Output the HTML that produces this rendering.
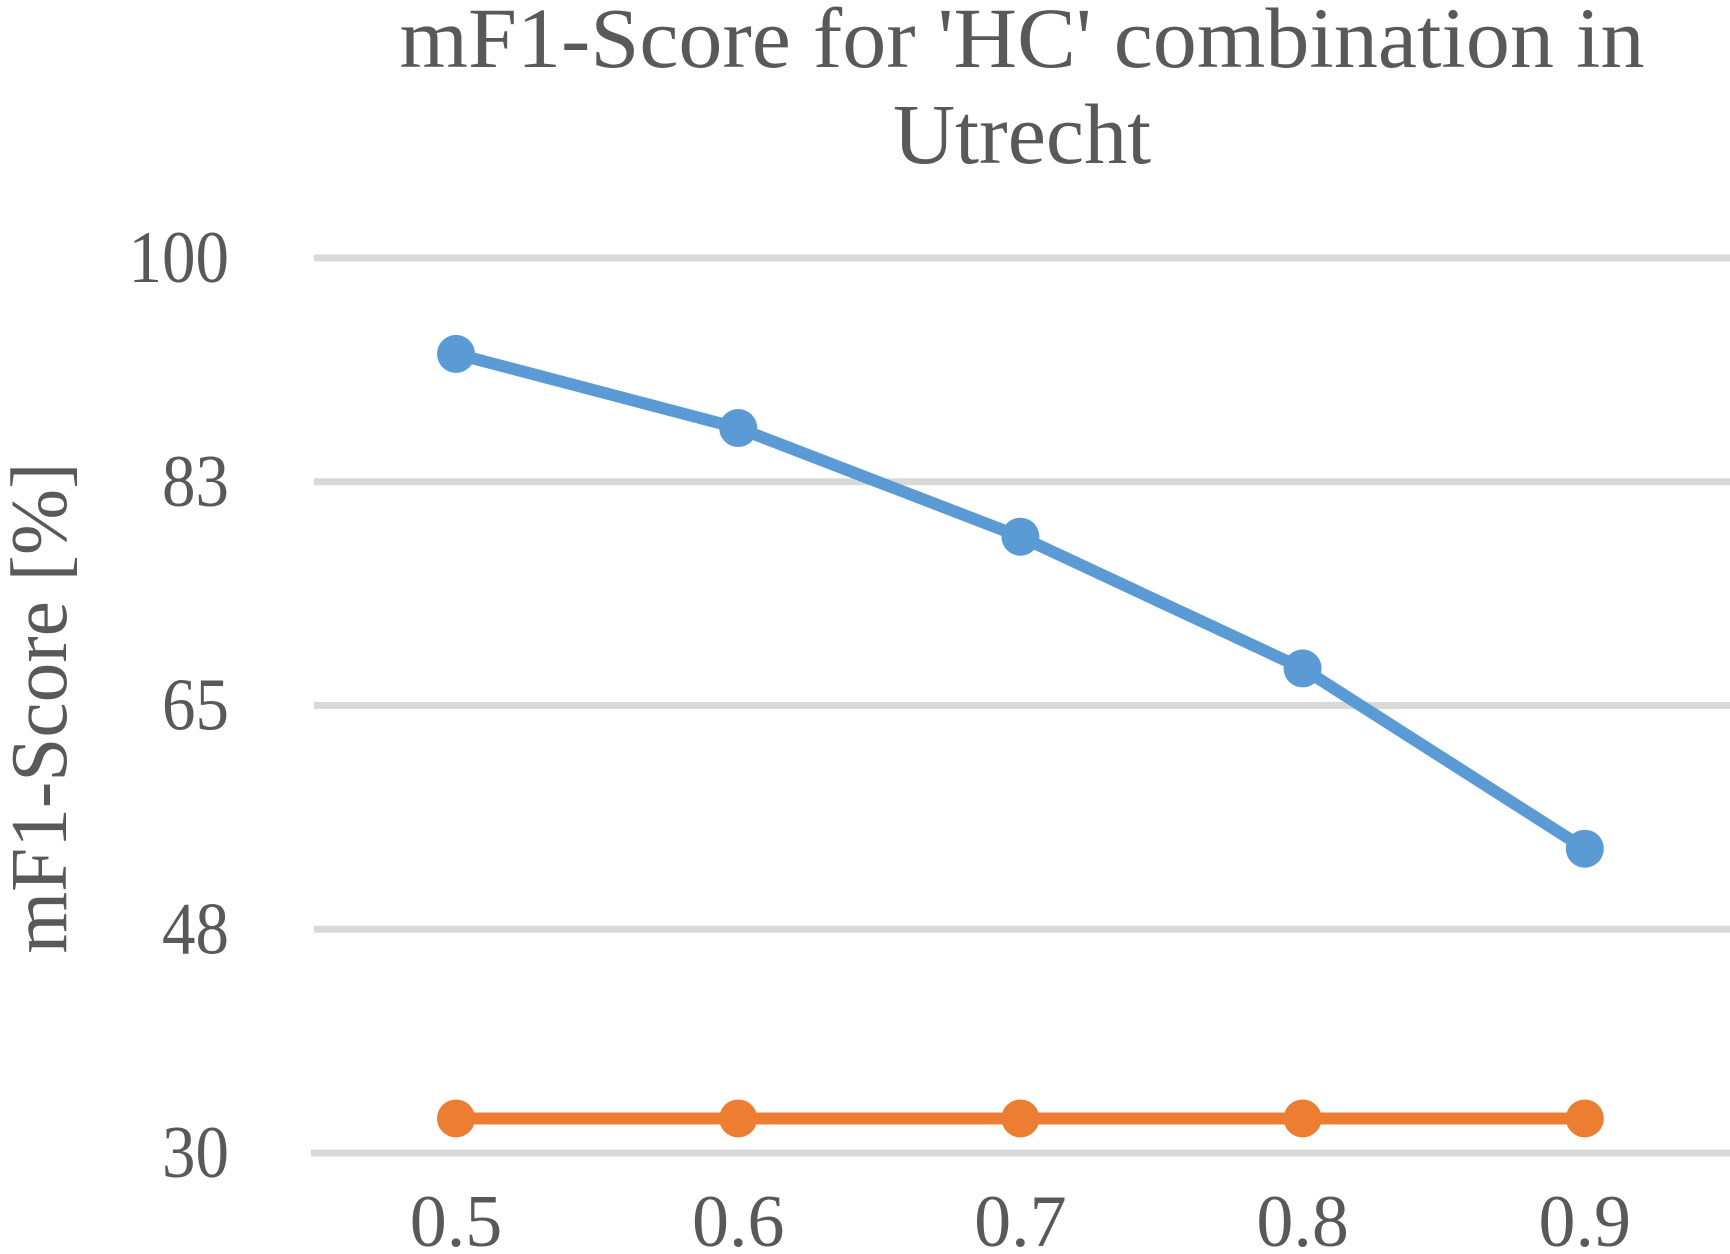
<!DOCTYPE html>
<html><head><meta charset="utf-8"><style>
html,body{margin:0;padding:0;background:#fff;}
svg{display:block;font-family:"Liberation Serif",serif;}
</style></head><body>
<svg id="chart" width="1730" height="1254" viewBox="0 0 1730 1254" xmlns="http://www.w3.org/2000/svg">
<text x="1022" y="67" font-size="86" fill="#595959" text-anchor="middle" textLength="1245" lengthAdjust="spacingAndGlyphs">mF1-Score for 'HC' combination in</text>
<text x="1022" y="163" font-size="86" fill="#595959" text-anchor="middle" textLength="258" lengthAdjust="spacingAndGlyphs">Utrecht</text>
<text transform="translate(66,708) rotate(-90)" font-size="80" fill="#595959" text-anchor="middle" textLength="491" lengthAdjust="spacingAndGlyphs">mF1-Score [%]</text>
<g id="grid"></g><g id="series"></g><g id="labels"></g>
</svg>
<script>
const categories=["0.5","0.6","0.7","0.8","0.9"];
const yTicks=[30,48,65,83,100];
const yTickValues=[30,47.5,65,82.5,100];
const seriesBlue=[92.5,86.7,78.2,67.9,53.8];
const seriesOrange=[32.7,32.7,32.7,32.7,32.7];
const NS="http://www.w3.org/2000/svg";
function yS(v){return 1153-(v-30)/70*895;}
function xS(i){return 456+i*282.2;}
function mk(t,a,p){const e=document.createElementNS(NS,t);for(const k in a)e.setAttribute(k,a[k]);p.appendChild(e);return e;}
const grid=document.getElementById('grid'),ser=document.getElementById('series'),lab=document.getElementById('labels');
yTickValues.forEach((v,i)=>{
 const l=mk('rect',{x:i==0?311:314,y:yS(v)-3.5,width:1730,height:7,fill:'#d9d9d9'},grid);
 
 
 const s=String(yTicks[i]);
 const t=mk('text',{x:229,y:yS(v)+24,'font-size':74,fill:'#595959','text-anchor':'end',textLength:s.length*33.5,lengthAdjust:'spacingAndGlyphs'},lab);
 t.textContent=s;
 
 
});
categories.forEach((c,i)=>{
 const t=mk('text',{x:xS(i),y:1246,'font-size':74,fill:'#595959','text-anchor':'middle'},lab);
 t.textContent=c;
 
 
});
function drawSeries(vals,col,name){
 const pl=mk('polyline',{points:vals.map((v,i)=>xS(i)+','+yS(v)).join(' '),fill:'none',stroke:col,'stroke-width':12,'stroke-linejoin':'round'},ser);
 
 
 vals.forEach((v,i)=>{
  const c=mk('circle',{cx:xS(i),cy:yS(v),r:19,fill:col},ser);
  
  
 });
}
drawSeries(seriesBlue,'#5b9bd5','blue-series');
drawSeries(seriesOrange,'#ed7d31','orange-series');
</script>
</body></html>
